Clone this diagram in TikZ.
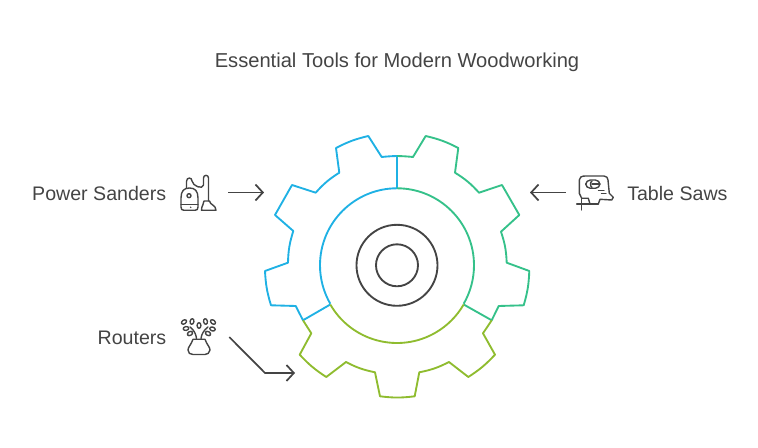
\documentclass[tikz,border=0pt]{standalone}
\usepackage{fontspec}
\setmainfont{Liberation Sans}
\usetikzlibrary{arrows.meta}
\definecolor{inkgray}{HTML}{444444}
\definecolor{gearblue}{HTML}{1FB1E4}
\definecolor{geargreen}{HTML}{35C18A}
\definecolor{gearlime}{HTML}{8FBC2F}
\tikzset{
    gearline/.style={line width=1.4pt, line join=round},
    iconline/.style={inkgray, line width=1.05pt, line cap=round, line join=round},
    pointer/.style={inkgray, line width=1.3pt, -{Straight Barb[length=5.5pt, width=12pt]}},
    caption/.style={text=inkgray, font=\fontsize{14.7}{17}\selectfont, inner sep=0pt},
    iconbox/.style={minimum size=42.75pt, inner sep=0pt},
}
\begin{document}
\begin{tikzpicture}[x=0.75pt, y=-0.75pt]
    \useasboundingbox (0, 0) rectangle (758, 448);

    % Title
    \node [caption, font=\fontsize{15.1}{18}\selectfont] (title) at (397, 62.5) {Essential Tools for Modern Woodworking};

    % Labels
    \node [caption, anchor=east] (sanderslabel) at (166.5, 193.5) {Power Sanders};
    \node [caption, anchor=east] (routerslabel) at (166.5, 337.5) {Routers};
    \node [caption, anchor=west] (sawslabel) at (627, 193.5) {Table Saws};

    % Icon places
    \node [iconbox] (sandersicon) at (199.5, 192.5) {};
    \node [iconbox] (routersicon) at (200.5, 337) {};
    \node [iconbox] (sawsicon) at (594.5, 192.5) {};

    % Gear, blue part
    \coordinate (hub) at (397, 265.3);
    \draw [gearline, gearblue] (397, 156) to[bend right=2] (381.7, 157) -- (368.3, 136)
        to[bend right=7] (336, 148) -- (339.3, 172.7) to[bend right=8] (315.7, 192.7)
        -- (292, 185) -- (275, 215) -- (293.3, 231) to[bend right=8] (288, 262.7)
        -- (265, 271) to[bend right=7] (271, 305.3) -- (295.7, 306) -- (303, 320.3)
        -- (330.3, 304.5);
    \draw [gearline, gearblue] (397, 156) -- (397, 188.3);
    \draw [gearline, gearblue] (397, 188.3) arc[start angle=-90, end angle=-210, radius=77];

    % Gear, green part
    \draw [gearline, geargreen] (397, 156) to[bend left=2] (413, 157) -- (425.7, 136)
        to[bend left=7] (458.3, 148) -- (455, 172.7) to[bend left=8] (479, 192.7)
        -- (502, 185) -- (519.3, 215) -- (501, 231.7) to[bend left=8] (506.7, 262.7)
        -- (529.3, 271) to[bend left=7] (523.7, 305.3) -- (498.7, 306) -- (491.7, 320.3)
        -- (463.7, 304.5);
    \draw [gearline, geargreen] (397, 188.3) arc[start angle=-90, end angle=30, radius=77];

    % Gear, lime part
    \draw [gearline, gearlime] (303, 320.3) -- (311.3, 333.3) -- (299.7, 354.7)
        to[bend right=7] (326.3, 377) -- (346, 362) to[bend right=8] (375, 372.3)
        -- (380, 396.3) to[bend right=7] (414.7, 396.3) -- (419.3, 372.3)
        to[bend right=8] (449, 362) -- (468.3, 377) to[bend right=7] (495, 354.7)
        -- (483, 333.3) -- (491.7, 320.3);
    \draw [gearline, gearlime] (330.3, 304.5) arc[start angle=150, end angle=30, radius=77];

    % Hub rings
    \draw [inkgray, line width=1.4pt] (hub) circle (40.5);
    \draw [inkgray, line width=1.4pt] (hub) circle (21);

    % Arrows
    \coordinate (sandersin) at (264, 192.5);
    \coordinate (routersbend) at (265, 373);
    \coordinate (routersin) at (295, 373);
    \coordinate (sawsin) at (530, 192.5);
    \draw [pointer] (sandersicon.east) -- (sandersin);
    \draw [pointer] (routersicon.east) -- (routersbend) -- (routersin);
    \draw [pointer] (sawsicon.west) -- (sawsin);

    % Vacuum
    \begin{scope}[iconline]
        \draw (181, 198) .. controls (181, 191) and (184, 188) .. (189.5, 188)
            .. controls (195, 188) and (198, 191) .. (198, 198) -- (198, 207)
            .. controls (198, 209.5) and (197, 210.3) .. (195, 210.3) -- (184, 210.3)
            .. controls (182, 210.3) and (181, 209.5) .. (181, 207) -- cycle;
        \draw (181, 204.5) -- (198, 204.5);
        \draw (189, 195.7) circle (2);
        \fill [inkgray] (190.7, 207.3) circle (0.8);
        \draw (186.5, 188) -- (186.5, 181.5) .. controls (186.5, 177) and (192, 177) .. (192, 181)
            .. controls (192.5, 186) and (203, 190) .. (203.5, 185) -- (203.5, 178)
            .. controls (203.5, 174.5) and (208.5, 174.5) .. (208.5, 178) -- (208.5, 201);
        \draw (204, 201) -- (209.5, 201) .. controls (210, 205) and (216, 205) .. (216, 210.3)
            -- (201.5, 210.3) .. controls (201.5, 205) and (204, 205) .. (204, 201);
    \end{scope}

    % Vase with sprigs
    \begin{scope}[iconline]
        \draw (193, 339.3) -- (205, 339.3) .. controls (207, 345) and (210, 347) .. (210, 350)
            .. controls (210, 353) and (207, 354.5) .. (205, 354.5) -- (193, 354.5)
            .. controls (190, 354.5) and (188, 353) .. (188, 350)
            .. controls (188, 347) and (191, 345) .. (193, 339.3);
        \draw (196.5, 338.5) .. controls (196, 334) and (194, 330) .. (190, 327);
        \draw (201, 338.5) .. controls (201.5, 334) and (204, 330) .. (208, 327);
        \foreach \leafx/\leafy/\leafturn in {184/322/35, 186/328.5/10, 192/321.5/80, 190/333.5/30,
            199/325.5/90, 205.5/321.5/100, 213/322/-40, 212.5/329/-15, 208/333.5/-30}
            \draw [rotate around={\leafturn:(\leafx, \leafy)}] (\leafx, \leafy) ellipse [x radius=2.8, y radius=1.9];
    \end{scope}

    % Jigsaw
    \begin{scope}[iconline]
        \draw (581.7, 198.3) -- (579.3, 193.3) -- (579.3, 180) .. controls (579.3, 177.5) and (581.5, 176) .. (585, 176)
            -- (604, 176) .. controls (606.5, 176) and (608, 178) .. (608, 180) -- (609.3, 193.3)
            -- (613.3, 197.3) -- (611.7, 200) -- (600, 199.3) -- (598.3, 204);
        \draw (581.7, 198.3) -- (588.3, 198.3) -- (590, 204);
        \draw [rounded corners=3.5] (585.7, 180) rectangle (600, 188.3);
        \draw (592, 184.2) -- (599, 184.2);
        \draw (592, 181) .. controls (590, 182) and (590, 186.5) .. (592, 187.5);
        \draw (598.5, 190.5) -- (604, 190.5);
        \draw (601.5, 193.5) -- (606, 193.5);
        \draw (576.7, 204) -- (598.3, 204);
        \draw (581.7, 198.3) -- (581.7, 210);
    \end{scope}

\end{tikzpicture}
\end{document}
